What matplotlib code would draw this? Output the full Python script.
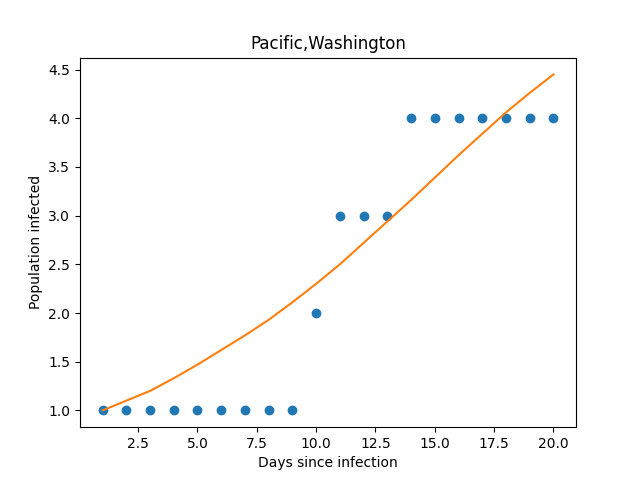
import matplotlib
matplotlib.use("Agg")
import matplotlib.pyplot as plt

days = list(range(1, 21))
infected = [1, 1, 1, 1, 1, 1, 1, 1, 1, 2, 3, 3, 3, 4, 4, 4, 4, 4, 4, 4]
fit_x = list(range(1, 21))
fit_y = [1.0, 1.1, 1.2, 1.33, 1.47, 1.62, 1.77, 1.93, 2.11, 2.3,
         2.5, 2.72, 2.94, 3.16, 3.39, 3.62, 3.84, 4.06, 4.26, 4.45]

fig, ax = plt.subplots(figsize=(6.4, 4.8), dpi=100)
ax.scatter(days, infected, color="#1f77b4")
ax.plot(fit_x, fit_y, color="#ff7f0e")
ax.set_title("Pacific,Washington")
ax.set_xlabel("Days since infection")
ax.set_ylabel("Population infected")
fig.savefig("out.png")
